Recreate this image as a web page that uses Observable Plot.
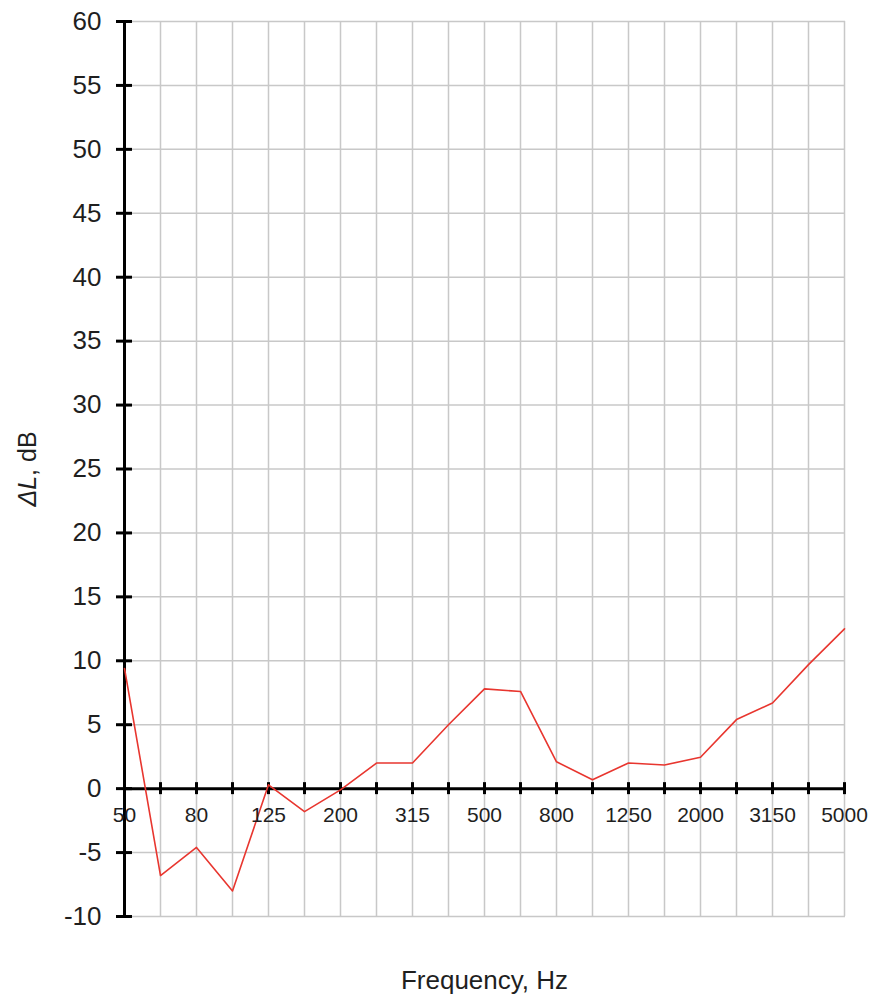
<!DOCTYPE html>
<html><head><meta charset="utf-8">
<script src="https://cdn.jsdelivr.net/npm/d3@7"></script>
<script src="https://cdn.jsdelivr.net/npm/@observablehq/plot@0.6"></script>
<style>body{margin:0;background:#fff}</style>
</head><body><div id="chart"></div>
<script>
const frequencies = ["50","63","80","100","125","160","200","250","315","400","500","630","800","1000","1250","1600","2000","2500","3150","4000","5000"];
const deltaL = [9.4,-6.8,-4.6,-8.0,0.3,-1.8,-0.1,2.0,2.0,5.0,7.8,7.6,2.1,0.7,2.0,1.85,2.45,5.4,6.7,9.7,12.5];
const xTickLabels = ["50","80","125","200","315","500","800","1250","2000","3150","5000"];
const yTicks = [-10,-5,0,5,10,15,20,25,30,35,40,45,50,55,60];
const xTitle = "Frequency, Hz";
const yTitle = "ΔL, dB";

const data = frequencies.map((f, i) => ({f, v: deltaL[i]}));
const grid = "#c8c8c8";
const ink = "#1f1f1f";

const chart = Plot.plot({
  width: 875, height: 997,
  marginLeft: 123, marginRight: 30, marginTop: 21, marginBottom: 81,
  style: {fontFamily: "'Liberation Sans', Arial, sans-serif", background: "white"},
  x: {type: "point", domain: frequencies, padding: 0, axis: null},
  y: {domain: [-10, 60], axis: null},
  marks: [
    Plot.ruleX(frequencies, {x: d => d, stroke: grid, strokeWidth: 1.5}),
    Plot.ruleY(yTicks, {y: d => d, stroke: grid, strokeWidth: 1.5}),
    Plot.ruleY([0], {y: d => d, stroke: "black", strokeWidth: 3}),
    Plot.ruleX([frequencies[0]], {x: d => d, y1: -10, y2: 60, stroke: "black", strokeWidth: 3}),
    Plot.ruleX(frequencies, {x: d => d, y1: 0, y2: 0, insetTop: -6, insetBottom: -6, stroke: "black", strokeWidth: 3}),
    Plot.ruleY(yTicks, {y: d => d, x1: () => frequencies[0], x2: () => frequencies[0], insetLeft: -8, insetRight: -8, stroke: "black", strokeWidth: 3}),
    Plot.line(data, {x: "f", y: "v", stroke: "#e8362f", strokeWidth: 1.6}),
    Plot.text(yTicks, {x: () => frequencies[0], y: d => d, text: d => String(d), textAnchor: "end", dx: -23, fontSize: 26, fill: ink}),
    Plot.text(xTickLabels, {x: d => d, y: () => 0, text: d => d, dy: 27, fontSize: 21, fill: ink}),
    Plot.text([xTitle], {frameAnchor: "bottom", text: d => d, textAnchor: "middle", lineAnchor: "middle", dy: 64, fontSize: 26, fill: ink}),
    Plot.text([yTitle], {frameAnchor: "left", text: d => d, textAnchor: "middle", lineAnchor: "middle", dx: -96, rotate: -90, fontSize: 25, fill: ink})
  ]
});
document.getElementById("chart").appendChild(chart);
// italicise the Δ and L of the y title
d3.select(chart).selectAll("text").each(function() {
  if (this.textContent === yTitle) {
    const t = d3.select(this);
    t.text(null);
    t.append("tspan").attr("font-style", "italic").text("ΔL");
    t.append("tspan").text(", dB");
  }
});
</script>
</body></html>
